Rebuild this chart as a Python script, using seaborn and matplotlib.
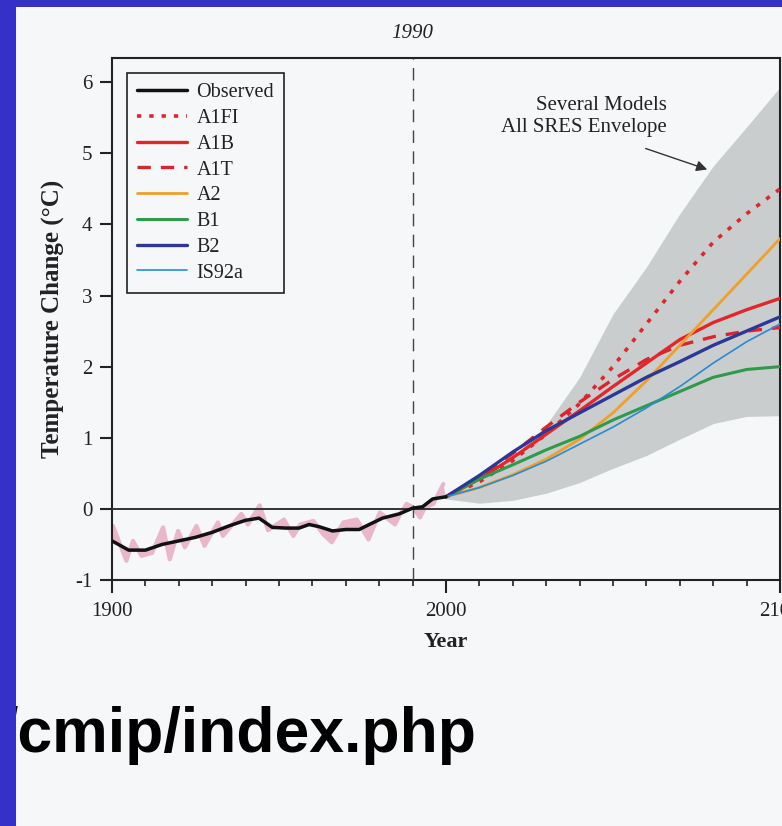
import matplotlib
matplotlib.use("Agg")
import matplotlib.pyplot as plt
from matplotlib.patches import Rectangle
from matplotlib.ticker import MultipleLocator
import numpy as np
import seaborn as sns

# observed, smoothed (black) and annual spikes (pink)
obs_years = [1900, 1905, 1910, 1915, 1920, 1925, 1930, 1935, 1940, 1944, 1948, 1952,
             1956, 1959, 1962, 1966, 1970, 1974, 1977, 1981, 1986, 1990, 1993, 1996, 2000]
obs_temp = [-0.45, -0.58, -0.58, -0.50, -0.45, -0.40, -0.33, -0.24, -0.16, -0.13, -0.26, -0.27,
            -0.27, -0.22, -0.25, -0.31, -0.29, -0.29, -0.22, -0.13, -0.07, 0.01, 0.03, 0.14, 0.17]
annual_years = [1900.3, 1904.3, 1906.3, 1908.8, 1912.0, 1915.3, 1917.3, 1919.8, 1921.8, 1925.3,
                1927.7, 1931.7, 1933.2, 1938.7, 1940.7, 1944.2, 1946.7, 1951.5, 1954.3, 1956.3,
                1960.3, 1963.3, 1965.8, 1969.3, 1973.3, 1976.8, 1980.2, 1984.7, 1986.2, 1988.2,
                1990.2, 1992.2, 1993.7, 1996.2, 1999.2]
annual_temp = [-0.24, -0.73, -0.45, -0.66, -0.62, -0.26, -0.71, -0.31, -0.54, -0.24,
               -0.52, -0.19, -0.38, -0.07, -0.22, 0.05, -0.30, -0.15, -0.38, -0.22,
               -0.17, -0.36, -0.47, -0.19, -0.15, -0.43, -0.05, -0.22, -0.08, 0.07,
               0.02, -0.12, 0.02, 0.07, 0.35]

# SRES projections
proj_years = [2000, 2010, 2020, 2030, 2040, 2050, 2060, 2070, 2080, 2090, 2100]
a1fi = [0.17, 0.38, 0.68, 1.05, 1.48, 2.00, 2.60, 3.20, 3.75, 4.15, 4.50]
a1b = [0.17, 0.42, 0.72, 1.05, 1.38, 1.72, 2.05, 2.38, 2.62, 2.80, 2.96]
a1t = [0.17, 0.45, 0.78, 1.15, 1.50, 1.82, 2.10, 2.30, 2.42, 2.50, 2.55]
a2 = [0.17, 0.30, 0.48, 0.70, 0.98, 1.35, 1.80, 2.30, 2.80, 3.30, 3.80]
b1 = [0.17, 0.42, 0.62, 0.83, 1.02, 1.25, 1.45, 1.65, 1.85, 1.96, 2.00]
b2 = [0.17, 0.47, 0.80, 1.10, 1.35, 1.60, 1.85, 2.07, 2.30, 2.50, 2.70]
is92a = [0.17, 0.30, 0.47, 0.67, 0.91, 1.15, 1.42, 1.72, 2.05, 2.35, 2.60]
env_high = [0.20, 0.40, 0.72, 1.18, 1.85, 2.74, 3.40, 4.15, 4.82, 5.37, 5.93]
env_low = [0.14, 0.08, 0.12, 0.22, 0.37, 0.57, 0.75, 0.98, 1.20, 1.30, 1.31]

sns.set_theme(style="white")
plt.rcParams["font.family"] = ["Liberation Serif", "DejaVu Serif"]
plt.rcParams["axes.unicode_minus"] = False
ink = "#222222"
bg = "#f6f7f9"

fig = plt.figure(figsize=(7.82, 8.26), dpi=100, facecolor=bg)
ax = fig.add_axes([112 / 782, 1 - 580 / 826, 668 / 782, 522 / 826])
ax.set_facecolor(bg)

# envelope of all SRES / models
ax.fill_between(proj_years, env_low, env_high, color="#c9cdce", lw=0, zorder=1)

# annual observations as pink band
ax.fill(annual_years + obs_years[::-1], annual_temp + obs_temp[::-1],
        color="#e9b7c7", lw=0, zorder=2)
sns.lineplot(x=annual_years, y=annual_temp, color="#e9b7c7", lw=3, ax=ax, zorder=2)

ax.axhline(0, color="#333333", lw=1.4, zorder=3)
ax.axvline(1990, color="#444444", lw=1.0, linestyle=(0, (9, 6)), zorder=3)

sns.lineplot(x=obs_years, y=obs_temp, color="#111111", lw=2.5, ax=ax, zorder=6, label="Observed")
series = [
    ("A1FI", a1fi, "#e0262c", (0, (1.2, 2.2)), 2.6),
    ("A1B", a1b, "#e3262b", "-", 2.4),
    ("A1T", a1t, "#d9262b", (0, (4, 3)), 2.4),
    ("A2", a2, "#f0a028", "-", 2.0),
    ("B1", b1, "#2e9a4a", "-", 2.2),
    ("B2", b2, "#2b3896", "-", 2.4),
    ("IS92a", is92a, "#2a8ad2", "-", 1.2),
]
for name, vals, col, ls, lw in series:
    sns.lineplot(x=proj_years, y=vals, color=col, linestyle=ls, lw=lw, ax=ax, zorder=5, label=name)

ax.set_xlim(1900, 2100)
ax.set_ylim(-1, 6.34)
ax.set_xticks([1900, 2000, 2100])
ax.xaxis.set_minor_locator(MultipleLocator(10))
ax.set_yticks(range(-1, 7))
ax.tick_params(axis="both", which="major", direction="out", length=9, width=1.5,
               color=ink, labelsize=15, labelcolor=ink, pad=5, left=True, bottom=True)
ax.tick_params(axis="x", which="major", pad=7)
ax.tick_params(axis="x", which="minor", direction="out", length=4, width=1.2,
               color=ink, bottom=True)
for sp in ax.spines.values():
    sp.set_color(ink)
    sp.set_linewidth(1.5)

ax.set_xlabel("Year", fontsize=16, fontweight="bold", color=ink, labelpad=8)
ax.set_ylabel("Temperature Change (°C)", fontsize=18, fontweight="bold", color=ink, labelpad=8)
ax.text(1990, 6.55, "1990", ha="center", va="bottom", fontsize=15, style="italic", color=ink)

ax.text(2066, 5.52, "Several Models\nAll SRES Envelope", ha="right", va="center",
        fontsize=15, color=ink, linespacing=1.2)
ax.annotate("", xy=(2079, 4.76), xytext=(2059, 5.08),
            arrowprops=dict(arrowstyle="-|>", color="#333333", lw=1, mutation_scale=16))

leg = ax.legend(loc="upper left", bbox_to_anchor=(0.0225, 0.971), borderaxespad=0,
                fontsize=14.5, handlelength=2.5, handletextpad=0.45, labelspacing=0.33,
                borderpad=0.5, fancybox=False, framealpha=1, facecolor=bg, edgecolor=ink)
leg.get_frame().set_linewidth(1.2)
for t in leg.get_texts():
    t.set_color(ink)

fig.text(0.0, 1 - 752 / 826, "/cmip/index.php", fontsize=45, fontweight="bold",
         family=["Liberation Sans", "DejaVu Sans"], color="black", va="baseline")

blue = "#3430c8"
fig.patches.append(Rectangle((0, 0), 16 / 782, 1, transform=fig.transFigure,
                             facecolor=blue, edgecolor="none", zorder=10))
fig.patches.append(Rectangle((0, 1 - 7 / 826), 1, 7 / 826, transform=fig.transFigure,
                             facecolor=blue, edgecolor="none", zorder=10))

fig.savefig("out.png", dpi=100, facecolor=bg)
